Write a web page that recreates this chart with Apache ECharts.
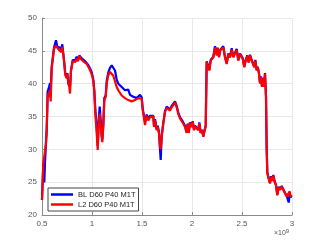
<!DOCTYPE html>
<html><head><meta charset="utf-8">
<script src="https://cdn.jsdelivr.net/npm/echarts@6/dist/echarts.min.js"></script>
<style>html,body{margin:0;padding:0;background:#fff}#c{width:323px;height:242px}</style>
</head><body><div id="c"></div>
<script>
const xValues = [0.500,0.513,0.523,0.530,0.540,0.547,0.557,0.570,0.580,0.587,0.597,0.607,0.620,0.630,0.640,0.653,0.667,0.680,0.690,0.703,0.713,0.723,0.733,0.747,0.753,0.763,0.773,0.780,0.790,0.807,0.820,0.833,0.847,0.860,0.873,0.887,0.900,0.913,0.933,0.947,0.960,0.973,0.987,1.000,1.013,1.023,1.033,1.047,1.057,1.067,1.077,1.087,1.097,1.103,1.113,1.123,1.137,1.147,1.163,1.180,1.197,1.213,1.230,1.247,1.263,1.280,1.297,1.313,1.330,1.347,1.363,1.380,1.397,1.413,1.430,1.447,1.463,1.480,1.497,1.507,1.520,1.530,1.547,1.563,1.580,1.597,1.613,1.620,1.630,1.647,1.657,1.670,1.680,1.687,1.697,1.713,1.730,1.747,1.763,1.780,1.797,1.813,1.830,1.847,1.863,1.880,1.897,1.913,1.930,1.947,1.957,1.967,1.980,1.997,2.007,2.020,2.030,2.047,2.063,2.073,2.087,2.100,2.113,2.127,2.137,2.147,2.163,2.173,2.187,2.200,2.213,2.230,2.247,2.257,2.270,2.280,2.297,2.313,2.330,2.347,2.363,2.380,2.397,2.413,2.430,2.447,2.463,2.480,2.497,2.507,2.523,2.537,2.553,2.567,2.580,2.597,2.613,2.623,2.633,2.647,2.657,2.670,2.680,2.690,2.700,2.710,2.720,2.730,2.740,2.747,2.753,2.767,2.780,2.790,2.803,2.813,2.827,2.840,2.853,2.867,2.880,2.897,2.913,2.923,2.937,2.947,2.957,2.967,2.977,2.987,3.000];
const blValues = [22.3,27.8,25.0,28.0,31,33,38.8,39.5,40.1,39.0,42.6,42.5,45.5,45.8,46.6,45.6,45.4,45.5,45.0,46.0,44.5,43.2,41.5,41.0,41.6,40.0,39.8,39.5,42.0,43.6,43.9,43.6,44.1,43.6,44.3,44.0,43.8,43.6,43.4,43.3,42.9,42.6,42.1,41.6,40.6,39.0,36.0,33.5,30.5,34.5,36.5,34.5,32.0,31.5,33.8,37.8,38.2,40.4,41.7,42.4,42.8,42.6,42.0,40.6,40.0,39.7,39.5,39.3,39.0,38.8,39.1,38.3,38.6,38.0,38.1,37.8,38.1,38.3,37.9,36.2,35.0,34.2,35.3,34.6,35.1,34.8,35.1,33.6,34.6,33.1,33.6,32.6,30.0,28.4,32.0,34.0,35.8,36.5,36.6,36.1,36.6,36.9,37.3,36.6,35.6,34.9,35.1,34.1,33.6,32.6,33.9,32.5,34.1,33.5,34.3,33.0,33.6,33.9,33.0,34.1,32.5,33.0,32.0,33.0,33.6,43.4,43.3,42.1,43.6,43.5,44.1,45.7,44.4,45.5,44.1,45.1,44.9,45.7,44.1,43.1,44.6,44.1,45.4,44.1,43.9,45.3,43.6,44.6,44.5,43.9,42.6,43.6,44.3,43.3,44.4,43.6,43.8,42.6,43.6,42.1,42.6,41.6,40.1,41.1,39.6,40.9,39.6,41.6,38.0,30.0,26.5,25.6,24.9,25.9,25.3,26.1,25.1,24.6,23.1,24.3,23.9,24.4,24.6,23.6,23.9,22.9,22.6,21.9,23.2,22.8,22.8];
const l2Values = [22.3,27.8,27.5,28.0,31,33,38.5,38.0,39.0,37.3,42.3,42.3,45.3,45.6,45.8,45.5,45.2,45.5,44.8,45.6,44.5,43.0,41.3,40.8,41.5,40.2,39.5,38.5,42.0,43.4,43.6,43.3,43.8,43.4,44.2,43.8,43.6,43.4,43.2,43.0,42.7,42.3,41.8,41.3,40.4,38.8,35.5,32.5,29.9,33.5,35.5,33.5,32.0,31.1,33.5,37.5,38.0,40.0,41.3,41.8,42.0,41.2,41.0,39.5,39.0,38.7,38.2,38.0,37.8,37.7,37.5,37.5,37.3,37.3,37.5,37.4,37.8,38.0,37.7,36.0,34.8,33.7,35.1,34.4,34.9,34.7,35.0,33.4,34.4,32.9,33.4,32.4,30.5,30.0,32.0,34.0,35.7,36.3,36.4,35.9,36.4,36.7,37.1,36.4,35.4,34.7,34.9,33.9,33.4,32.5,33.8,32.5,34.0,33.4,34.2,32.9,33.5,33.8,32.9,34.0,32.5,32.9,31.9,32.9,33.5,43.3,43.2,42.0,43.5,43.4,44.0,45.5,44.3,45.4,44.0,45.0,44.8,45.5,44.0,43.0,44.5,44.0,45.2,44.0,43.8,45.1,43.5,44.5,44.4,43.8,42.5,43.5,44.2,43.2,44.3,43.5,43.7,42.5,43.5,42.0,42.5,41.5,40.0,41.0,39.5,40.8,39.5,41.5,38.0,30.0,26.4,25.5,24.8,25.8,25.2,26.0,25.0,24.5,23.0,24.2,23.8,24.3,24.5,23.5,23.8,22.8,22.6,22.5,23.6,22.8,23.0];
const seriesNames = ['BL D60 P40 M1T', 'L2 D60 P40 M1T'];
const xTicks = [0.5, 1, 1.5, 2, 2.5, 3];
const yTicks = [20, 25, 30, 35, 40, 45, 50];

const pair = (ys) => xValues.map((x, i) => [x, ys[i]]);
const chart = echarts.init(document.getElementById('c'), null, {renderer: 'canvas'});
const axisColor = '#8a8a8a';
const labelColor = '#555';
chart.setOption({
  animation: false,
  backgroundColor: '#fff',
  grid: {left: 42, right: 31, top: 18, bottom: 27, containLabel: false},
  xAxis: {
    type: 'value', min: xTicks[0], max: xTicks[xTicks.length - 1], interval: 0.5,
    axisLine: {show: true, lineStyle: {color: axisColor, width: 1}},
    axisTick: {show: true, inside: true, length: 3, lineStyle: {color: axisColor}},
    axisLabel: {color: labelColor, fontSize: 8, fontFamily: 'Liberation Sans', margin: 5,
      formatter: v => String(v)},
    splitLine: {show: true, lineStyle: {color: '#e8e8e8', width: 1}}
  },
  yAxis: {
    type: 'value', min: yTicks[0], max: yTicks[yTicks.length - 1], interval: 5,
    axisLine: {show: true, lineStyle: {color: axisColor, width: 1}},
    axisTick: {show: true, inside: true, length: 3, lineStyle: {color: axisColor}},
    axisLabel: {color: labelColor, fontSize: 8, fontFamily: 'Liberation Sans', margin: 5},
    splitLine: {show: true, lineStyle: {color: '#e8e8e8', width: 1}}
  },
  legend: {
    orient: 'vertical', left: 48, top: 188,
    padding: [2, 3, 2, 3], itemGap: 1, itemWidth: 22, itemHeight: 2.5,
    icon: 'rect',
    backgroundColor: '#fff', borderColor: '#444', borderWidth: 1, borderRadius: 0,
    textStyle: {fontSize: 7.5, color: '#222', fontFamily: 'Liberation Sans', lineHeight: 9},
    data: seriesNames
  },
  graphic: [{
    type: 'text', left: 274, top: 228,
    style: {
      text: '×10{s|9}', fill: labelColor, font: '7px Liberation Sans',
      rich: {s: {fontSize: 6, verticalAlign: 'top', padding: [0, 0, 5, 0], fill: labelColor}}
    }
  }],
  series: [
    {name: seriesNames[0], type: 'line', data: pair(blValues), symbol: 'none',
      lineStyle: {color: '#0000ff', width: 2.2}, itemStyle: {color: '#0000ff'}},
    {name: seriesNames[1], type: 'line', data: pair(l2Values), symbol: 'none',
      lineStyle: {color: '#ff0000', width: 2.2}, itemStyle: {color: '#ff0000'}}
  ]
});
</script></body></html>
